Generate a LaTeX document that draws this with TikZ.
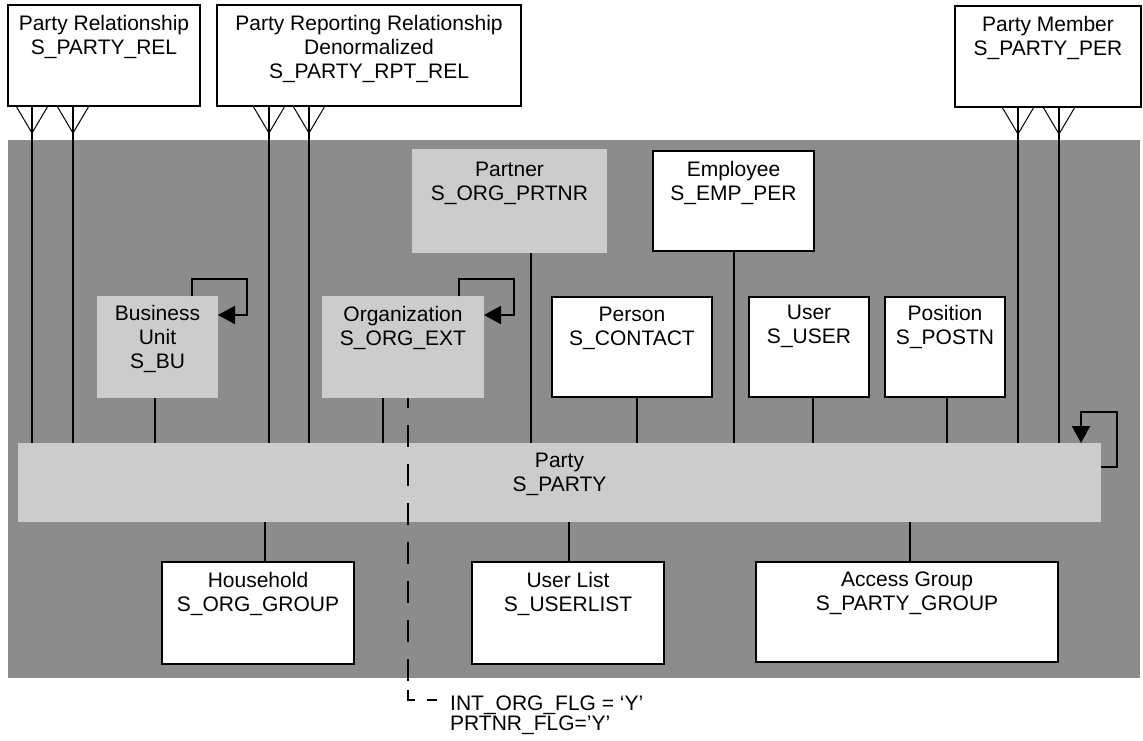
\documentclass[tikz,border=0pt]{standalone}
\usepackage{fontspec}
\setmainfont{Liberation Sans}
\usetikzlibrary{arrows.meta,calc}
\definecolor{bggray}{RGB}{140,140,140}
\definecolor{boxgray}{RGB}{204,204,204}
\begin{document}
\begin{tikzpicture}[x=1pt,y=-1pt,
  wbox/.style={draw=black, line width=2pt, fill=white, rectangle, inner sep=0pt, outer sep=0pt, anchor=north west},
  gbox/.style={fill=boxgray, draw=none, rectangle, inner sep=0pt, outer sep=0pt, anchor=north west},
  txt/.style={font=\fontsize{21}{24}\selectfont, align=center, inner sep=0pt, anchor=north},
  conn/.style={line width=2pt},
  foot/.style={line width=1pt},
  selfloop/.style={line width=2pt, -{Triangle[length=17pt,width=18pt]}},
  dashline/.style={line width=2pt, dash pattern=on 22pt off 17pt, dash phase=12pt}
]
\useasboundingbox (0,0) rectangle (1143,740);

% background panel
\node[fill=bggray, draw=none, inner sep=0pt, outer sep=0pt, anchor=north west,
      minimum width=1132pt, minimum height=538pt] (bg) at (8,140) {};

% top boxes
\node[wbox, minimum width=192pt, minimum height=101pt] (rel) at (8,5) {};
\node[txt] (relt) at ([yshift=-10pt]rel.north) {Party Relationship\\S\_PARTY\_REL};
\node[wbox, minimum width=304pt, minimum height=101pt] (rpt) at (217,5) {};
\node[txt] (rptt) at ([yshift=-10pt]rpt.north) {Party Reporting Relationship\\Denormalized\\S\_PARTY\_RPT\_REL};
\node[wbox, minimum width=186pt, minimum height=101pt] (mem) at (955,6) {};
\node[txt] (memt) at ([yshift=-10pt]mem.north) {Party Member\\S\_PARTY\_PER};

% inner boxes
\node[gbox, minimum width=195pt, minimum height=104pt] (prt) at (412,149) {};
\node[txt] (prtt) at ([yshift=-13pt]prt.north) {Partner\\S\_ORG\_PRTNR};
\node[wbox, minimum width=161pt, minimum height=100pt] (emp) at (653,151) {};
\node[txt] (empt) at ([yshift=-10pt]emp.north) {Employee\\S\_EMP\_PER};
\node[gbox, minimum width=121pt, minimum height=102pt] (bu) at (97,296) {};
\node[txt] (but) at ([yshift=-9pt]bu.north) {Business\\Unit\\S\_BU};
\node[gbox, minimum width=162pt, minimum height=102pt] (org) at (322,296) {};
\node[txt] (orgt) at ([yshift=-10pt]org.north) {Organization\\S\_ORG\_EXT};
\node[wbox, minimum width=160pt, minimum height=100pt] (per) at (552,297) {};
\node[txt] (pert) at ([yshift=-10pt]per.north) {Person\\S\_CONTACT};
\node[wbox, minimum width=120pt, minimum height=100pt] (usr) at (749,297) {};
\node[txt] (usrt) at ([yshift=-8pt]usr.north) {User\\S\_USER};
\node[wbox, minimum width=120pt, minimum height=100pt] (pos) at (885,297) {};
\node[txt] (post) at ([yshift=-8pt]pos.north) {Position\\S\_POSTN};

% party
\node[gbox, minimum width=1083pt, minimum height=79pt] (party) at (18,443) {};
\node[txt] (partyt) at ([yshift=-10pt]party.north) {Party\\S\_PARTY};

% bottom boxes
\node[wbox, minimum width=192pt, minimum height=102pt] (hh) at (162,562) {};
\node[txt] (hht) at ([yshift=-10pt]hh.north) {Household\\S\_ORG\_GROUP};
\node[wbox, minimum width=192pt, minimum height=102pt] (ul) at (472,562) {};
\node[txt] (ult) at ([yshift=-10pt]ul.north) {User List\\S\_USERLIST};
\node[wbox, minimum width=302pt, minimum height=100pt] (ag) at (756,562) {};
\node[txt] (agt) at ([yshift=-10pt]ag.north) {Access Group\\S\_PARTY\_GROUP};

% crow's foot connectors
\coordinate (r1) at ($(rel.south west)+(24,0)$);
\coordinate (r2) at ($(rel.south west)+(65,0)$);
\coordinate (p1) at ($(rpt.south west)+(52,0)$);
\coordinate (p2) at ($(rpt.south west)+(92,0)$);
\coordinate (m1) at ($(mem.south west)+(63,0)$);
\coordinate (m2) at ($(mem.south west)+(104,0)$);
\foreach \c in {r1,r2,p1,p2,m1,m2}{
  \draw[conn] (\c) -- (\c |- party.north);
  \draw[foot] ($(\c)+(-16,0)$) -- ($(\c)+(0,27)$) -- ($(\c)+(16,0)$);
}

% simple connectors to party
\coordinate (bu1) at ($(bu.south west)+(58,0)$);
\coordinate (org1) at ($(org.south west)+(61,0)$);
\coordinate (prt1) at ($(prt.south west)+(119,0)$);
\coordinate (per1) at ($(per.south west)+(85,0)$);
\coordinate (emp1) at ($(emp.south west)+(81,0)$);
\coordinate (usr1) at ($(usr.south west)+(64,0)$);
\coordinate (pos1) at ($(pos.south west)+(62,0)$);
\foreach \c in {bu1,org1,prt1,per1,emp1,usr1,pos1}{
  \draw[conn] (\c) -- (\c |- party.north);
}
\coordinate (hh1) at ($(hh.north west)+(103,0)$);
\coordinate (ul1) at ($(ul.north west)+(97,0)$);
\coordinate (ag1) at ($(ag.north west)+(154,0)$);
\foreach \c in {hh1,ul1,ag1}{
  \draw[conn] (\c |- party.south) -- (\c);
}

% self loops
\coordinate (bul) at ($(bu.north west)+(95,0)$);
\draw[selfloop] (bul) -- ++(0,-17) -| ($(bu.north east)+(29,19)$) -- ($(bu.north east)+(0,19)$);
\coordinate (orgl) at ($(org.north west)+(137,0)$);
\draw[selfloop] (orgl) -- ++(0,-17) -| ($(org.north east)+(30,19)$) -- ($(org.north east)+(0,19)$);
\coordinate (partyl) at ($(party.north east)+(0,24)$);
\coordinate (partyin) at ($(party.north west)+(1063,0)$);
\draw[selfloop] (partyl) -- ++(16,0) |- ($(partyin)+(0,-31)$) -- (partyin);

% dashed subtype line
\coordinate (dtop) at ($(org.south west)+(86,0)$);
\coordinate (dcorner) at (dtop |- 0,700);
\coordinate (dlast) at ($(dcorner)+(0,-19)$);
\coordinate (dend) at ($(dcorner)+(29,0)$);
\draw[dashline] (dtop) -- (dlast);
\draw[conn] ($(dcorner)+(0,-10)$) -- (dcorner) -- ($(dcorner)+(7,0)$);
\draw[conn] ($(dend)+(-10,0)$) -- (dend);
\node[font=\fontsize{21}{20}\selectfont, align=left, inner sep=0pt, anchor=north west] (flg) at (450,696)
  {INT\_ORG\_FLG = ‘Y’\\PRTNR\_FLG='Y'};
\end{tikzpicture}
\end{document}
